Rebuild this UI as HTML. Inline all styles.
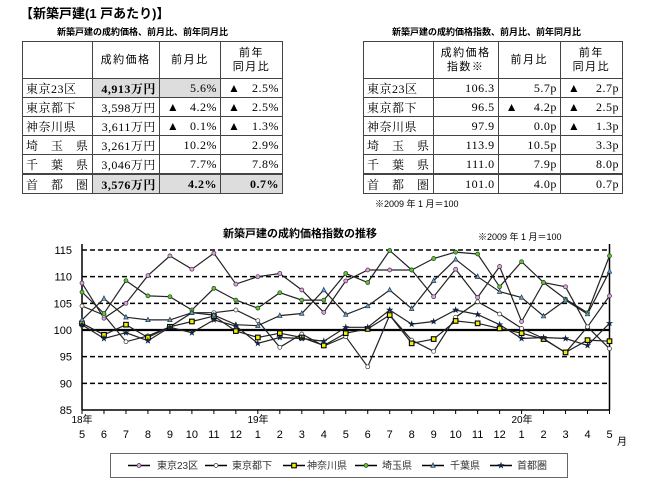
<!DOCTYPE html>
<html><head><meta charset="utf-8"><style>
body{margin:0;width:650px;height:487px;background:#fff;position:relative;overflow:hidden;font-family:"Liberation Serif","Noto Serif CJK SC","Noto Sans CJK JP",serif;color:#000}
.a{position:absolute}
table{border-collapse:collapse;position:absolute;font-size:12px;letter-spacing:0.5px}
td{border:1px solid #444;padding:0 3px;height:18px;white-space:nowrap}
.h td{height:36px;text-align:center;font-family:"Liberation Sans","Noto Sans CJK JP",sans-serif;font-size:11px;line-height:14px;letter-spacing:1.5px}
td.d{border-left:1px dotted #000}
.r{text-align:right}
.g{background:#ddd}
.b{font-weight:bold}
.tri{float:left;font-size:12px;margin-left:4px}
.top td{border-top:2px solid #444}
</style></head><body>
<div class="a b" style="left:20px;top:3px;font-size:13px;font-family:'Liberation Sans','Noto Sans CJK JP',sans-serif">【新築戸建(1 戸あたり)】</div>
<div class="a b" style="left:57px;top:25px;font-size:9px;font-family:'Liberation Sans','Noto Sans CJK JP',sans-serif">新築戸建の成約価格、前月比、前年同月比</div>
<div class="a b" style="left:392px;top:25px;font-size:9px;font-family:'Liberation Sans','Noto Sans CJK JP',sans-serif">新築戸建の成約価格指数、前月比、前年同月比</div>
<table style="left:22px;top:41px;width:261px">
<colgroup><col style="width:64px"><col style="width:68px"><col style="width:63px"><col style="width:64px"></colgroup>
<tr class="h"><td></td><td>成約価格</td><td class="d">前月比</td><td class="d">前年<br>同月比</td></tr>
<tr><td>東京23区</td><td class="r g b">4,913万円</td><td class="r g d">5.6%</td><td class="r d"><span class="tri">▲</span>2.5%</td></tr>
<tr><td>東京都下</td><td class="r">3,598万円</td><td class="r d"><span class="tri">▲</span>4.2%</td><td class="r d"><span class="tri">▲</span>2.5%</td></tr>
<tr><td>神奈川県</td><td class="r">3,611万円</td><td class="r d"><span class="tri">▲</span>0.1%</td><td class="r d"><span class="tri">▲</span>1.3%</td></tr>
<tr><td>埼　玉　県</td><td class="r">3,261万円</td><td class="r d">10.2%</td><td class="r d">2.9%</td></tr>
<tr><td>千　葉　県</td><td class="r">3,046万円</td><td class="r d">7.7%</td><td class="r d">7.8%</td></tr>
<tr class="top"><td>首　都　圏</td><td class="r g b">3,576万円</td><td class="r g d b">4.2%</td><td class="r g d b">0.7%</td></tr>
</table>
<table style="left:363px;top:41px;width:260px">
<colgroup><col style="width:65px"><col style="width:66px"><col style="width:64px"><col style="width:64px"></colgroup>
<tr class="h"><td></td><td>成約価格<br>指数※</td><td class="d">前月比</td><td class="d">前年<br>同月比</td></tr>
<tr><td>東京23区</td><td class="r">106.3</td><td class="r d">5.7p</td><td class="r d"><span class="tri">▲</span>2.7p</td></tr>
<tr><td>東京都下</td><td class="r">96.5</td><td class="r d"><span class="tri">▲</span>4.2p</td><td class="r d"><span class="tri">▲</span>2.5p</td></tr>
<tr><td>神奈川県</td><td class="r">97.9</td><td class="r d">0.0p</td><td class="r d"><span class="tri">▲</span>1.3p</td></tr>
<tr><td>埼　玉　県</td><td class="r">113.9</td><td class="r d">10.5p</td><td class="r d">3.3p</td></tr>
<tr><td>千　葉　県</td><td class="r">111.0</td><td class="r d">7.9p</td><td class="r d">8.0p</td></tr>
<tr class="top"><td>首　都　圏</td><td class="r">101.0</td><td class="r d">4.0p</td><td class="r d">0.7p</td></tr>
</table>
<div class="a" style="left:375px;top:197px;font-size:9px;font-family:'Liberation Sans','Noto Sans CJK JP',sans-serif">※2009 年 1 月＝100</div>
<svg class="a" style="left:0;top:0" width="650" height="487" font-family="Liberation Sans, Noto Sans CJK JP, sans-serif">
<text x="300" y="237" font-size="11" font-weight="bold" text-anchor="middle">新築戸建の成約価格指数の推移</text>
<text x="478" y="240" font-size="9">※2009 年 1 月＝100</text>
<g id="grid"></g><g id="ser"></g>
<g font-size="11" text-anchor="end" id="yl"></g>
<g font-size="11" text-anchor="middle" id="xl"></g>
<text x="82" y="423" font-size="10" text-anchor="middle">18年</text>
<text x="258" y="423" font-size="10" text-anchor="middle">19年</text>
<text x="522" y="423" font-size="10" text-anchor="middle">20年</text>
<text x="622" y="445" font-size="10" text-anchor="middle">月</text>
<rect x="110.5" y="453.5" width="457" height="24" fill="none" stroke="#666"/>
<g font-size="10" fill="#333" id="leg">
<text x="157" y="469">東京23区</text><text x="232" y="469">東京都下</text><text x="307" y="469">神奈川県</text>
<text x="382" y="469">埼玉県</text><text x="450" y="469">千葉県</text><text x="517" y="469">首都圏</text>
</g>
</svg>
<script>
var NS="http://www.w3.org/2000/svg";
function el(p,t,a){var e=document.createElementNS(NS,t);for(var k in a)e.setAttribute(k,a[k]);document.getElementById(p).appendChild(e);return e}
var X0=82,X1=609.5,dx=(X1-X0)/24;
function Y(v){return 250+(115-v)*160/30}
for(var v=85;v<=115;v+=5){
 if(v>85&&v!=100)el("grid","line",{x1:X0,x2:X1,y1:Y(v),y2:Y(v),stroke:"#000","stroke-width":1.5,"stroke-dasharray":"5,3"});
 var t=el("yl","text",{x:72,y:Y(v)+4});t.textContent=v;}
el("grid","line",{x1:X0,x2:X1,y1:Y(100),y2:Y(100),stroke:"#000","stroke-width":2.2});
el("grid","line",{x1:X0,x2:X0,y1:244,y2:Y(85),stroke:"#000","stroke-width":1.5});
el("grid","line",{x1:X1,x2:X1,y1:244,y2:Y(85),stroke:"#000","stroke-width":1.5});
el("grid","line",{x1:X0,x2:X1,y1:Y(85),y2:Y(85),stroke:"#000","stroke-width":1.5});
var mon=[5,6,7,8,9,10,11,12,1,2,3,4,5,6,7,8,9,10,11,12,1,2,3,4,5];
for(var i=0;i<25;i++){el("grid","line",{x1:X0+i*dx,x2:X0+i*dx,y1:Y(85),y2:Y(85)+4,stroke:"#000"});
 var t=el("xl","text",{x:X0+i*dx,y:438});t.textContent=mon[i];}
var S=[
["#e8a0e8","c",[108.8,102.2,105,110.2,113.9,111.4,114.4,108.6,110,110.6,107.5,103.3,109.2,111.25,111.25,111.25,106.25,111.4,106.1,111.9,101.6,108.9,108.1,100.6,106.4]],
["#fff","c",[104.5,102.8,97.8,98.9,100.6,103.25,103.25,103.75,101.75,96.75,99.25,97,98.75,93.1,102.8,98.1,96,102.4,105.3,103,100.3,98.4,95.75,100.6,96.5]],
["#ee0","s",[101.25,99.1,101,98.6,100.6,101.6,102.6,99.8,98.6,99.4,98.6,97.1,99.4,100.2,102.8,97.5,98.3,101.7,101.25,100.3,99.4,98.3,95.8,98.1,97.9]],
["#5c2","c",[107.1,103.1,109.25,106.4,106.25,103.75,107.8,105.6,104.1,107,105.6,105.6,110.6,108.9,114.9,111.25,113.4,114.6,114.25,108.1,112.8,108.9,105.8,103.25,113.9]],
["#6ad","t",[101.9,105.9,102.4,101.9,101.9,103.25,102.8,101,100.8,102.7,103.1,107.5,102.9,104.5,107.5,104,109.25,113.25,110,107.2,106.1,102.6,105.6,103,111]],
["#124","*",[101,98.4,99.5,98,100.5,99.5,101.9,100.75,97.5,98.6,98.4,97.9,100.5,100.5,103.75,101.1,101.6,103.75,102.9,101,98.4,98.6,98.4,97.1,101.25]]];
function mk(g,type,col,x,y){
 if(type=="c")el(g,"circle",{cx:x,cy:y,r:2,fill:col,stroke:"#333","stroke-width":0.7});
 else if(type=="s")el(g,"rect",{x:x-2.3,y:y-2.3,width:4.6,height:4.6,fill:col,stroke:"#000","stroke-width":1.1});
 else if(type=="t")el(g,"polygon",{points:(x)+","+(y-2.6)+" "+(x+2.2)+","+(y+1.8)+" "+(x-2.2)+","+(y+1.8),fill:col,stroke:"#234","stroke-width":0.7});
 else {var p=[];for(var k=0;k<10;k++){var r=k%2?1.5:3.8,a=-Math.PI/2+k*Math.PI/5;p.push((x+r*Math.cos(a)).toFixed(1)+","+(y+r*Math.sin(a)).toFixed(1));}
  el(g,"polygon",{points:p.join(" "),fill:col});}
}
S.forEach(function(s){var pts=s[2].map(function(v,i){return (X0+i*dx).toFixed(1)+","+Y(v).toFixed(1)}).join(" ");
 el("ser","polyline",{points:pts,fill:"none",stroke:"#222","stroke-width":1.2});});
S.forEach(function(s){s[2].forEach(function(v,i){mk("ser",s[1],s[0],X0+i*dx,Y(v))});});
var lx=[128,205,283,355,422,490];
S.forEach(function(s,i){el("leg","line",{x1:lx[i],x2:lx[i]+22,y1:465.5,y2:465.5,stroke:"#000","stroke-width":1.5});mk("leg",s[1],s[0],lx[i]+11,465.5);});
</script>
</body></html>
